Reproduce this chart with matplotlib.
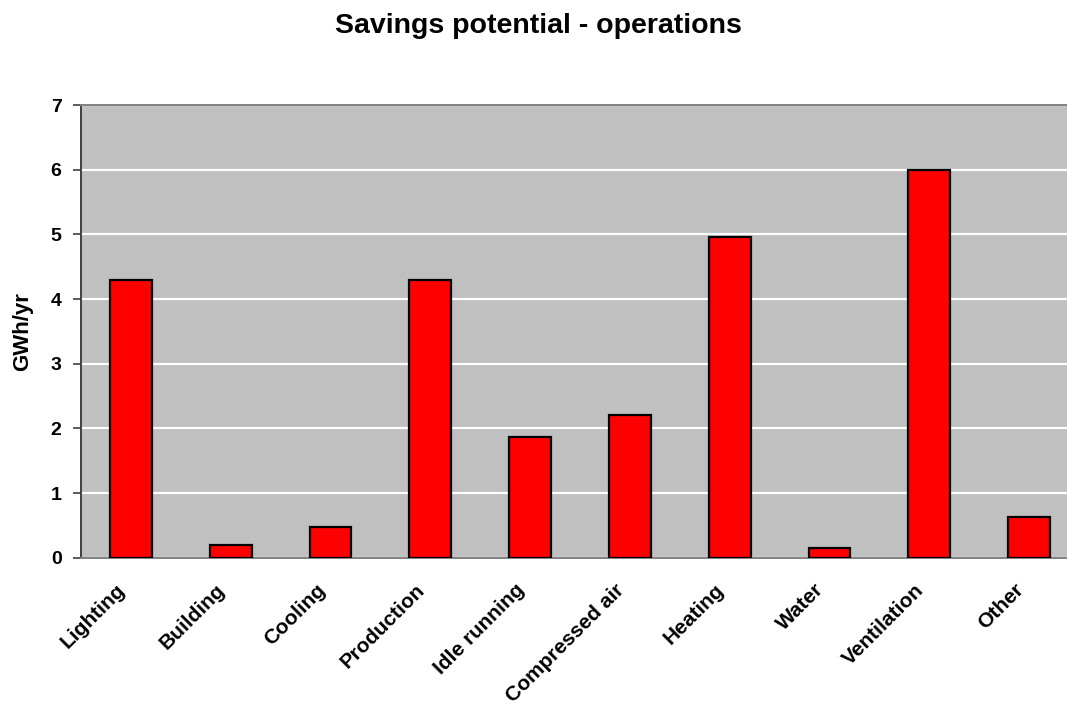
#! /usr/bin/env python
'''
Bar chart of savings potential per operation area
'''
import matplotlib
matplotlib.use('Agg')
import matplotlib.pyplot as plt
import matplotlib.transforms as mtransforms
import numpy as np

categories = ['Lighting', 'Building', 'Cooling', 'Production', 'Idle running',
              'Compressed air', 'Heating', 'Water', 'Ventilation', 'Other']
savings = [4.3, 0.2, 0.48, 4.3, 1.87, 2.21, 4.96, 0.15, 6.0, 0.63]
yticks = [0, 1, 2, 3, 4, 5, 6, 7]


def DoFig(filename):
    plt.rc("font", family=['Liberation Sans', 'DejaVu Sans'], weight='bold')

    fig = plt.figure(figsize=(10.67, 7.1), dpi=100)
    # plot area runs a little past the right edge of the figure
    ax = fig.add_axes([0.0759, 0.2145, 0.9353, 0.6376])
    ax.set_facecolor('#C0C0C0')

    x = np.arange(len(categories))
    ax.bar(x, savings, width=0.42, color='#FF0000', edgecolor='black',
           linewidth=1.6, zorder=3)

    ax.set_xlim(-0.5, len(categories) - 0.5)
    ax.set_ylim(0, 7)
    ax.set_yticks(yticks)
    ax.yaxis.grid(True, color='white', linewidth=1.6, zorder=1)
    ax.set_axisbelow(True)

    ax.set_xticks(x)
    ax.set_xticklabels(categories, rotation=45, ha='right', va='center',
                       rotation_mode='anchor', fontsize=15, fontweight='bold')
    ax.tick_params(axis='x', length=0, pad=21)
    shift = mtransforms.ScaledTranslation(-6 / 72, 0, fig.dpi_scale_trans)
    for lab in ax.get_xticklabels():
        lab.set_transform(lab.get_transform() + shift)

    ax.tick_params(axis='y', direction='out', length=6, width=1.2,
                   color='#404040', pad=8, labelsize=14)
    for lab in ax.get_yticklabels():
        lab.set_fontweight('bold')

    ax.spines['left'].set_color('#404040')
    ax.spines['left'].set_linewidth(1.4)
    ax.spines['bottom'].set_color('#808080')
    ax.spines['bottom'].set_linewidth(1.4)
    ax.spines['top'].set_color('#808080')
    ax.spines['top'].set_linewidth(1.4)
    ax.spines['right'].set_visible(False)

    ax.set_ylabel('GWh/yr', fontsize=16, fontweight='bold')
    ax.yaxis.set_label_coords(-0.048, 0.5)

    fig.text(0.505, 0.964, 'Savings potential - operations', ha='center',
             va='center', fontsize=20.5, fontweight='bold')

    fig.savefig(filename, dpi=100)


if __name__ == '__main__':
    DoFig('out.png')
